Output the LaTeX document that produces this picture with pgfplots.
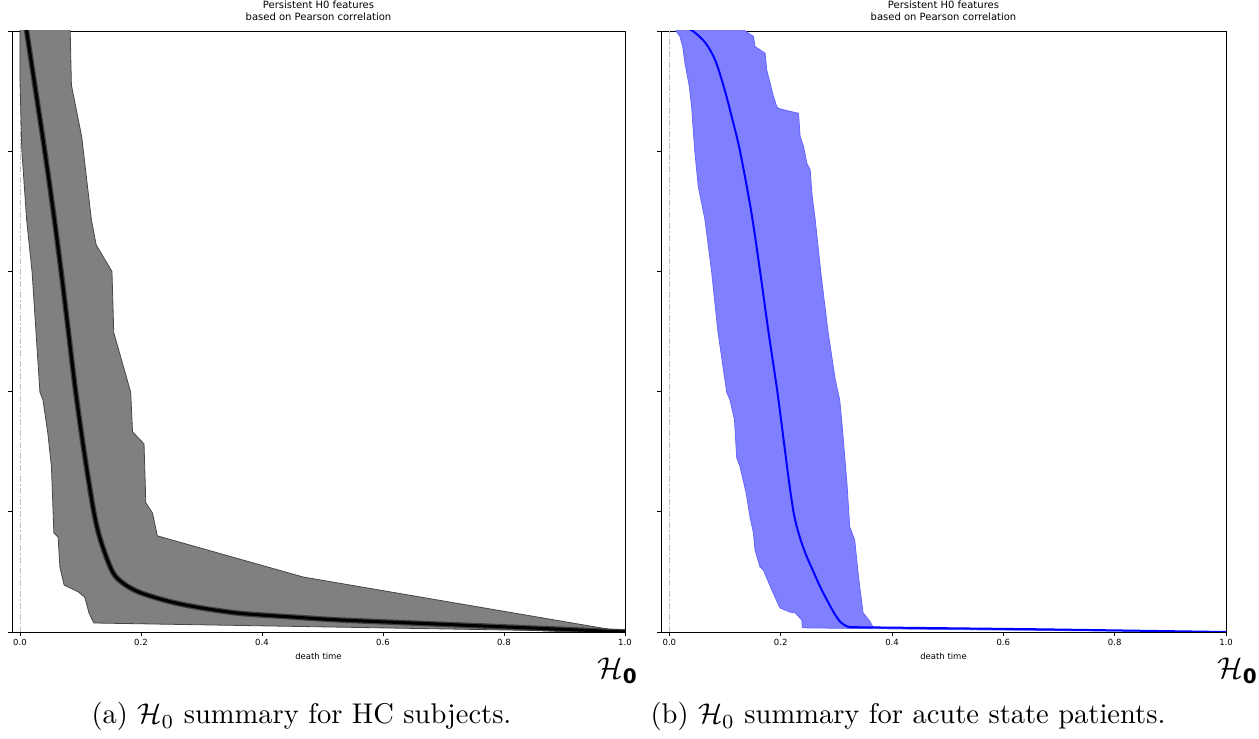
\documentclass[border=0pt]{standalone}
\usepackage{fontspec}
\usepackage{graphicx}
\usepackage{pgfplots}
\pgfplotsset{compat=1.18}
\newfontfamily\djv{DejaVu Sans}
\definecolor{bandgray}{RGB}{128,128,128}
\definecolor{bandedge}{RGB}{70,70,70}
\definecolor{bandblue}{RGB}{128,128,255}
\definecolor{edgeblue}{RGB}{100,100,255}
\definecolor{dashgray}{RGB}{190,190,190}
\begin{document}
\begin{tikzpicture}
\useasboundingbox (0pt,0pt) rectangle (1259pt,739pt);
\pgfplotsset{
 myax/.style={scale only axis, anchor=south west, height=601pt, ymin=0, ymax=1, xmax=1.0,
  axis line style={black, line width=0.9pt},
  tick align=outside, tick pos=left, major tick length=4pt,
  tick style={black, line width=0.8pt},
  xtick={0,0.2,0.4,0.6,0.8,1.0}, ytick={0,0.2,0.4,0.6,0.8,1.0}, yticklabels={},
  xticklabel style={font=\djv\fontsize{8.5}{10}\selectfont, /pgf/number format/.cd, fixed, fixed zerofill, precision=1, assume math mode=true},
  xlabel={death time},
  xlabel style={at={(axis description cs:0.5,0)}, anchor=base, yshift=-28pt, inner sep=0pt, font=\djv\fontsize{8.5}{10}\selectfont},
  title={Persistent H0 features\\based on Pearson correlation},
  title style={at={(axis description cs:0.5,1)}, anchor=south, yshift=4pt, inner sep=0pt, align=center, font=\djv\fontsize{10}{12}\selectfont},
 }
}
% Left: HC subjects
\begin{axis}[myax, at={(12pt,107pt)}, width=613pt, xmin=-0.0132]
\addplot[dashgray, line width=0.8pt, dash pattern=on 6pt off 2pt on 1.5pt off 2pt] coordinates {(0,0) (0,1)};
\addplot[fill=bandgray, draw=bandedge, line width=0.8pt] coordinates {
(0.0,1.05) (0.0,1.0) (0.0,0.918) (0.003,0.802) (0.011,0.686) (0.020,0.599) (0.033,0.399) (0.038,0.386) (0.046,0.331) (0.052,0.275) (0.056,0.165) (0.063,0.158) (0.066,0.108) (0.073,0.078) (0.096,0.067) (0.107,0.058) (0.114,0.032) (0.122,0.015) (1.0,0.0)
(0.468,0.0915) (0.227,0.160) (0.219,0.198) (0.208,0.215) (0.205,0.313) (0.186,0.333) (0.183,0.399) (0.155,0.498) (0.152,0.600) (0.126,0.644) (0.118,0.686) (0.102,0.824) (0.085,0.910) (0.083,1.0) (0.083,1.05) (0.0,1.05)};
\addplot[black!75, line width=5.5pt, smooth, tension=0.5] coordinates {
(0.004,1.05) (0.011,1.0) (0.026,0.9) (0.041,0.8) (0.055,0.7) (0.068,0.6) (0.080,0.5) (0.092,0.4) (0.106,0.3) (0.122,0.2) (0.134,0.15) (0.153,0.1) (0.172,0.08) (0.20,0.065) (0.25,0.05) (0.30,0.04) (0.364,0.031) (0.45,0.025) (0.529,0.020) (0.694,0.013) (0.860,0.006) (1.0,0.0)};
\addplot[black, line width=3pt, smooth, tension=0.5] coordinates {
(0.004,1.05) (0.011,1.0) (0.026,0.9) (0.041,0.8) (0.055,0.7) (0.068,0.6) (0.080,0.5) (0.092,0.4) (0.106,0.3) (0.122,0.2) (0.134,0.15) (0.153,0.1) (0.172,0.08) (0.20,0.065) (0.25,0.05) (0.30,0.04) (0.364,0.031) (0.45,0.025) (0.529,0.020) (0.694,0.013) (0.860,0.006) (1.0,0.0)};
\end{axis}
% Right: acute state patients
\begin{axis}[myax, at={(661pt,107pt)}, width=565pt, xmin=-0.015]
\addplot[dashgray, line width=0.8pt, dash pattern=on 6pt off 2pt on 1.5pt off 2pt] coordinates {(0,0) (0,1)};
\addplot[fill=bandblue, draw=edgeblue, line width=0.8pt] coordinates {
(0.010,1.05) (0.012,1.0) (0.019,0.991) (0.024,0.974) (0.028,0.947) (0.036,0.907) (0.040,0.874) (0.043,0.835) (0.046,0.797) (0.052,0.741) (0.064,0.686) (0.076,0.599) (0.087,0.502) (0.103,0.399) (0.109,0.386) (0.117,0.353) (0.121,0.290) (0.127,0.275) (0.138,0.231) (0.145,0.191) (0.151,0.165) (0.154,0.136) (0.163,0.108) (0.169,0.103) (0.184,0.070) (0.190,0.058) (0.196,0.045) (0.199,0.040) (0.217,0.033) (0.226,0.032) (0.238,0.020) (0.239,0.007) (0.5,0.004) (1.0,0.0)
(0.5,0.006) (0.366,0.008) (0.360,0.018) (0.348,0.032) (0.342,0.075) (0.339,0.098) (0.333,0.153) (0.324,0.175) (0.319,0.248) (0.310,0.348) (0.306,0.386) (0.298,0.42) (0.285,0.5) (0.272,0.599) (0.262,0.686) (0.256,0.730) (0.253,0.769) (0.247,0.780) (0.241,0.808) (0.235,0.824) (0.232,0.863) (0.196,0.871) (0.193,0.874) (0.187,0.891) (0.175,0.935) (0.172,0.963) (0.154,0.974) (0.151,0.991) (0.136,1.0) (0.136,1.05) (0.010,1.05)};
\addplot[blue, line width=2pt, smooth, tension=0.5] coordinates {
(0.025,1.006) (0.042,1.0) (0.065,0.98) (0.083,0.95) (0.100,0.9) (0.114,0.85) (0.127,0.8) (0.147,0.7) (0.163,0.6) (0.178,0.5) (0.194,0.4) (0.208,0.3) (0.215,0.25) (0.223,0.2) (0.229,0.175) (0.237,0.15) (0.247,0.125) (0.259,0.1) (0.271,0.075) (0.285,0.05) (0.297,0.03) (0.308,0.016) (0.320,0.009) (0.33,0.008)};
\addplot[blue, line width=2pt] coordinates {(0.33,0.008) (0.666,0.0045) (1.0,0.0)};
\end{axis}
% H0 symbols
\node[inner sep=0pt, anchor=base west] at (597pt,60pt) {\scalebox{3}{$\mathcal{H}$}\raisebox{-5pt}{\djv\bfseries\fontsize{20}{20}\selectfont 0}};
\node[inner sep=0pt, anchor=base west] at (1217pt,60pt) {\scalebox{3}{$\mathcal{H}$}\raisebox{-5pt}{\djv\bfseries\fontsize{20}{20}\selectfont 0}};
% captions
\node[inner sep=0pt, anchor=base, scale=2.85] at (301.5pt,15pt) {(a) $\mathcal{H}_0$ summary for HC subjects.};
\node[inner sep=0pt, anchor=base, scale=2.85] at (908pt,15pt) {(b) $\mathcal{H}_0$ summary for acute state patients.};
\end{tikzpicture}
\end{document}
